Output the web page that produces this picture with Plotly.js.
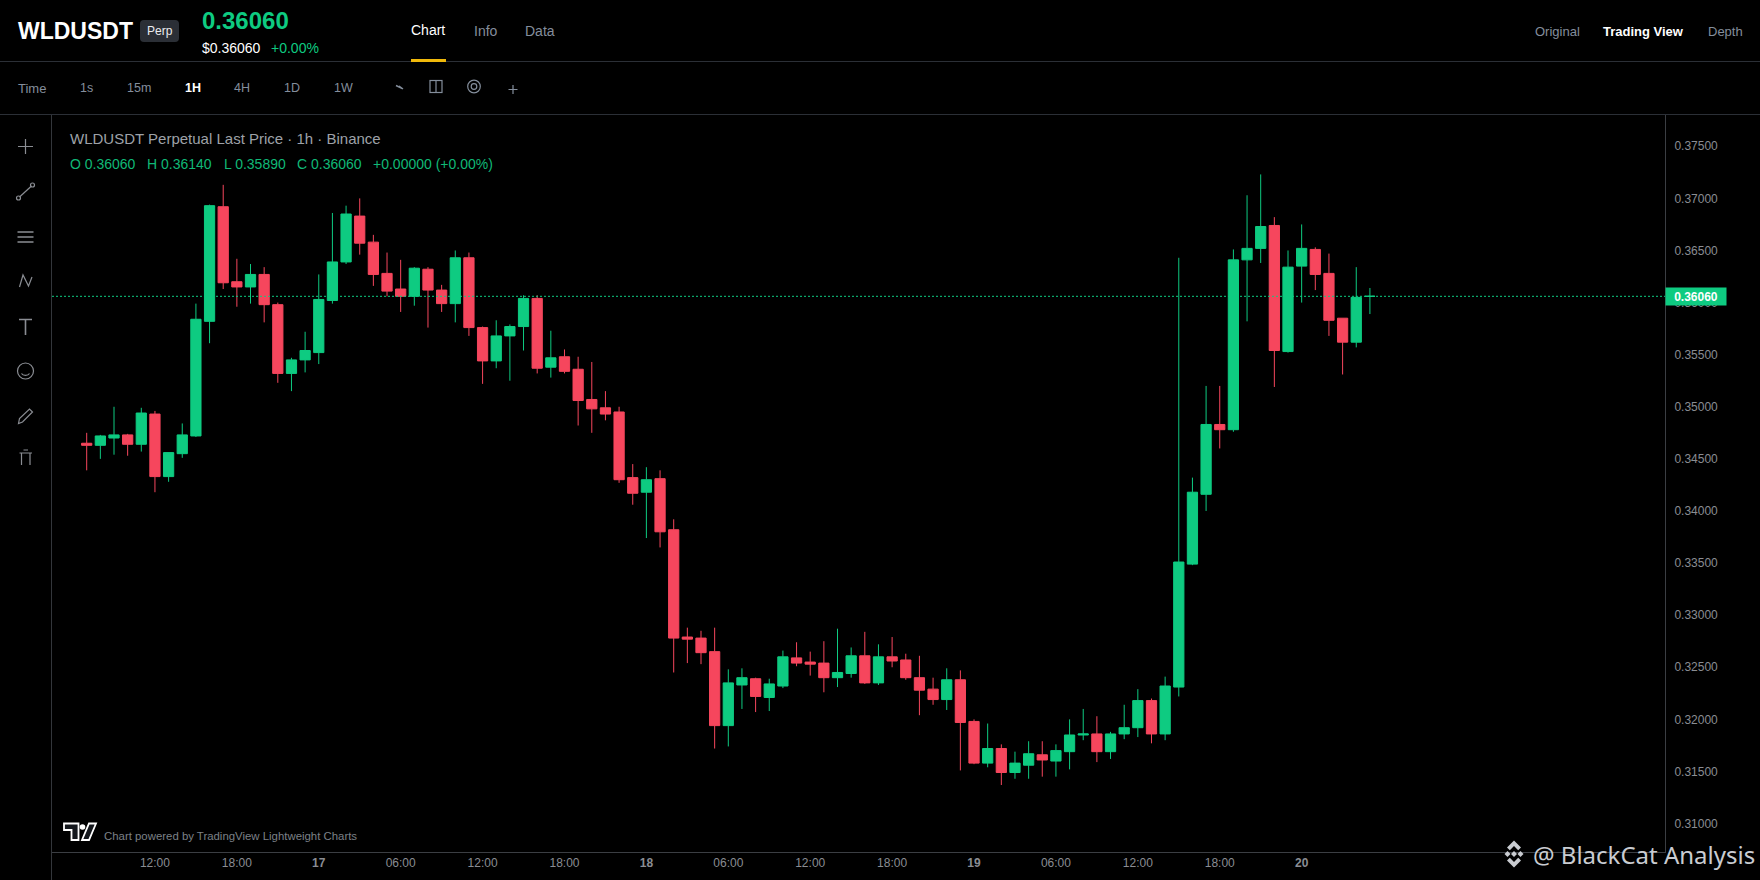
<!DOCTYPE html>
<html>
<head>
<meta charset="utf-8">
<script src="https://cdn.plot.ly/plotly-3.0.1.min.js"></script>
<style>
html,body{margin:0;padding:0;background:#000;width:1760px;height:880px;overflow:hidden}
#chrome{position:absolute;left:0;top:0;z-index:0}
#chart{position:absolute;left:0;top:0;width:1760px;height:880px;z-index:1}
</style>
</head>
<body>
<svg id="chrome" width="1760" height="880" viewBox="0 0 1760 880" fill="none">
  <path d="M0 61.5H1760M0 114.5H1760" stroke="#2b2f36" stroke-width="1"/>
  <rect x="411" y="59" width="35" height="3" fill="#f0b90b"/>
  <rect x="140" y="20" width="39" height="22" rx="4" fill="#2b2f36"/>
  <path d="M51.5 115V880" stroke="#33363b"/>
  <!-- toolbar icons -->
  <g stroke="#848e9c" stroke-width="1.2">
    <path d="M396 85.5L400 87.5L399 86L403 89" stroke-width="1.4"/>
    <rect x="430" y="80.5" width="12" height="12"/><path d="M436 80.5V92.5"/>
    <circle cx="474" cy="86.5" r="6.3"/><circle cx="474" cy="86.5" r="2.8"/>
    <path d="M508.5 89.5H517.5M513 85V94"/>
  </g>
  <!-- left drawing tools -->
  <g stroke="#8a8d93" stroke-width="1.2">
    <path d="M18 146.5H33M25.5 139V154"/>
    <path d="M19.5 197L31.5 186"/><circle cx="18.5" cy="198" r="2" /><circle cx="32.5" cy="185" r="2"/>
    <path d="M17.5 232H33.5M17.5 237H33.5M17.5 242H33.5" stroke-width="1.4"/>
    <path d="M19.5 287L23 275L28.5 286L32 277" />
    <path d="M19 319.5H32M25.5 319.5V335" stroke-width="1.6"/>
    <circle cx="25.5" cy="371" r="8"/><path d="M21.5 373.5C23 376 28 376 29.5 373.5"/>
    <path d="M18.5 423.5L19.5 418.5L29.5 409L32.5 412L22.5 422Z"/>
    <path d="M19.5 453H32M21.5 453V465M30 453V465M23.5 450H28"/>
  </g>
  <!-- lightweight charts logo -->
  <g stroke="#fff" stroke-width="1.8" fill="#14171c">
    <path d="M64 823.5H78.5V840H71.5V830H64Z"/>
    <path d="M89 823.5H96L89 840H82Z"/>
  </g>
  <circle cx="82.5" cy="827" r="2.8" fill="#fff"/>
</svg>
<div id="chart"></div>
<svg width="1760" height="880" viewBox="0 0 1760 880" style="position:absolute;left:0;top:0;z-index:2;pointer-events:none">
  <g fill="#c9ccd1">
    <path d="M1514 840.5L1521 847.5L1518.2 850.3L1514 846.1L1509.8 850.3L1507 847.5Z"/>
    <path d="M1514 867.5L1521 860.5L1518.2 857.7L1514 861.9L1509.8 857.7L1507 860.5Z"/>
    <path d="M1504.5 854L1507.5 851L1510.5 854L1507.5 857Z"/>
    <path d="M1517.5 854L1520.5 851L1523.5 854L1520.5 857Z"/>
    <path d="M1514 851L1517 854L1514 857L1511 854Z"/>
  </g>
</svg>
<script>
var times = [
"2026-03-16 07:00","2026-03-16 08:00","2026-03-16 09:00","2026-03-16 10:00","2026-03-16 11:00","2026-03-16 12:00","2026-03-16 13:00","2026-03-16 14:00","2026-03-16 15:00","2026-03-16 16:00","2026-03-16 17:00","2026-03-16 18:00","2026-03-16 19:00","2026-03-16 20:00","2026-03-16 21:00","2026-03-16 22:00","2026-03-16 23:00",
"2026-03-17 00:00","2026-03-17 01:00","2026-03-17 02:00","2026-03-17 03:00","2026-03-17 04:00","2026-03-17 05:00","2026-03-17 06:00","2026-03-17 07:00","2026-03-17 08:00","2026-03-17 09:00","2026-03-17 10:00","2026-03-17 11:00","2026-03-17 12:00","2026-03-17 13:00","2026-03-17 14:00","2026-03-17 15:00","2026-03-17 16:00","2026-03-17 17:00","2026-03-17 18:00","2026-03-17 19:00","2026-03-17 20:00","2026-03-17 21:00","2026-03-17 22:00","2026-03-17 23:00",
"2026-03-18 00:00","2026-03-18 01:00","2026-03-18 02:00","2026-03-18 03:00","2026-03-18 04:00","2026-03-18 05:00","2026-03-18 06:00","2026-03-18 07:00","2026-03-18 08:00","2026-03-18 09:00","2026-03-18 10:00","2026-03-18 11:00","2026-03-18 12:00","2026-03-18 13:00","2026-03-18 14:00","2026-03-18 15:00","2026-03-18 16:00","2026-03-18 17:00","2026-03-18 18:00","2026-03-18 19:00","2026-03-18 20:00","2026-03-18 21:00","2026-03-18 22:00","2026-03-18 23:00",
"2026-03-19 00:00","2026-03-19 01:00","2026-03-19 02:00","2026-03-19 03:00","2026-03-19 04:00","2026-03-19 05:00","2026-03-19 06:00","2026-03-19 07:00","2026-03-19 08:00","2026-03-19 09:00","2026-03-19 10:00","2026-03-19 11:00","2026-03-19 12:00","2026-03-19 13:00","2026-03-19 14:00","2026-03-19 15:00","2026-03-19 16:00","2026-03-19 17:00","2026-03-19 18:00","2026-03-19 19:00","2026-03-19 20:00","2026-03-19 21:00","2026-03-19 22:00","2026-03-19 23:00",
"2026-03-20 00:00","2026-03-20 01:00","2026-03-20 02:00","2026-03-20 03:00","2026-03-20 04:00","2026-03-20 05:00"];
var opens = [.3465,.3463,.3470,.3473,.3464,.3493,.3433,.3455,.3472,.3582,.3692,.3620,.3615,.3627,.3598,.3532,.3545,.3552,.3602,.3639,.3683,.3658,.3628,.3613,.3606,.3632,.3612,.3599,.3643,.3576,.3544,.3568,.3577,.3604,.3538,.3548,.3536,.3507,.3499,.3495,.3432,.3418,.3431,.3382,.3279,.3278,.3265,.3194,.3233,.3239,.3221,.3232,.3259,.3255,.3254,.3240,.3244,.3261,.3235,.3260,.3257,.3240,.3229,.3219,.3238,.3198,.3158,.3172,.3149,.3156,.3166,.3160,.3169,.3185,.3186,.3169,.3186,.3192,.3218,.3186,.3231,.3349,.3416,.3483,.3478,.3641,.3652,.3674,.3553,.3635,.3651,.3628,.3585,.3562,.3606];
var highs = [.3475,.3473,.3500,.3474,.3499,.3496,.3456,.3484,.3599,.3694,.3713,.3642,.3637,.3634,.3600,.3547,.3572,.3627,.3686,.3693,.3700,.3665,.3648,.3641,.3634,.3634,.3617,.3650,.3648,.3577,.3583,.3579,.3607,.3607,.3573,.3555,.3548,.3543,.3515,.3500,.3445,.3442,.3439,.3392,.3288,.3285,.3288,.3248,.3249,.3240,.3239,.3266,.3274,.3265,.3275,.3287,.3269,.3284,.3272,.3279,.3263,.3261,.3240,.3249,.3247,.3200,.3196,.3176,.3169,.3179,.3179,.3176,.3200,.3210,.3203,.3188,.3214,.3229,.3220,.3241,.3643,.3432,.3520,.3520,.3651,.3703,.3723,.3682,.3650,.3675,.3653,.3647,.3585,.3634,.3614];
var lows = [.3439,.3450,.3454,.3453,.3457,.3418,.3428,.3451,.3471,.3561,.3613,.3596,.3599,.3581,.3523,.3515,.3533,.3541,.3599,.3637,.3646,.3616,.3606,.3591,.3597,.3576,.3591,.3581,.3568,.3522,.3537,.3525,.3554,.3532,.3528,.3532,.3482,.3475,.3487,.3427,.3406,.3374,.3365,.3245,.3254,.3253,.3172,.3174,.3210,.3207,.3208,.3230,.3251,.3242,.3226,.3231,.3240,.3234,.3233,.3250,.3238,.3204,.3214,.3209,.3151,.3157,.3154,.3137,.3143,.3143,.3145,.3145,.3152,.3180,.3159,.3162,.3181,.3183,.3177,.3180,.3222,.3348,.3400,.3460,.3476,.3582,.3638,.3519,.3552,.3600,.3612,.3568,.3531,.3557,.3589];
var closes = [.3463,.3472,.3473,.3464,.3494,.3433,.3456,.3473,.3584,.3693,.3619,.3615,.3627,.3598,.3532,.3545,.3554,.3603,.3639,.3685,.3657,.3627,.3611,.3606,.3633,.3612,.3599,.3643,.3576,.3544,.3568,.3577,.3604,.3537,.3547,.3534,.3506,.3498,.3493,.3430,.3417,.3430,.3380,.3278,.3277,.3264,.3194,.3235,.3240,.3222,.3234,.3260,.3254,.3253,.3240,.3245,.3261,.3235,.3260,.3256,.3240,.3228,.3219,.3238,.3197,.3158,.3172,.3149,.3158,.3167,.3161,.3170,.3185,.3186,.3169,.3186,.3192,.3218,.3186,.3232,.3351,.3418,.3483,.3478,.3641,.3652,.3673,.3554,.3634,.3652,.3627,.3583,.3562,.3605,.3606];
var yTicks = [.31,.315,.32,.325,.33,.335,.34,.345,.35,.355,.36,.365,.37,.375];
var xTicks = ["2026-03-16 12:00","2026-03-16 18:00","2026-03-17 00:00","2026-03-17 06:00","2026-03-17 12:00","2026-03-17 18:00","2026-03-18 00:00","2026-03-18 06:00","2026-03-18 12:00","2026-03-18 18:00","2026-03-19 00:00","2026-03-19 06:00","2026-03-19 12:00","2026-03-19 18:00","2026-03-20 00:00"];
var xLabels = ["12:00","18:00","<b>17</b>","06:00","12:00","18:00","<b>18</b>","06:00","12:00","18:00","<b>19</b>","06:00","12:00","18:00","<b>20</b>"];
var lastPrice = 0.3606;
var timeframes = ["1s","15m","1H","4H","1D","1W"];

var UP = "#0ecb81", DOWN = "#f6465d", GREY = "#848e9c", AXIS = "#8a8d93";
var L = 52, R = 1665, T = 115, B = 852;
function note(px, py, text, size, color, anchor, family) {
  return {xref:"paper", yref:"paper", x:(px-L)/(R-L), y:1-(py-T)/(B-T), text:text, showarrow:false,
    xanchor:anchor||"left", yanchor:"middle", borderpad:0, borderwidth:0,
    font:{size:size, color:color, family:family||"Liberation Sans, Arial, sans-serif"}};
}
var tfX = [86.5,139.3,192.9,242.2,292,343.3];
var anns = [
  note(18,31,"<b>WLDUSDT</b>",23,"#ffffff"),
  note(159.5,31,"Perp",12,"#eaecef","center"),
  note(201.5,20.5,"<b>0.36060</b>",24,UP),
  note(202,47.5,"$0.36060",14,"#ffffff"),
  note(271,47.5,"+0.00%",14,UP),
  note(411,30,"Chart",14,"#ffffff"),
  note(474,30.5,"Info",14,GREY),
  note(525,30.5,"Data",14,GREY),
  note(1535,31,"Original",13,GREY),
  note(1603,31,"<b>Trading View</b>",13,"#ffffff"),
  note(1707.5,31,"Depth",13,GREY),
  note(18,88.5,"Time",13,GREY),
  note(70,138.5,"WLDUSDT Perpetual Last Price · 1h · Binance",15,"#9ea2a8"),
  note(70,163.5,"O 0.36060",14,"#10b877"),
  note(147,163.5,"H 0.36140",14,"#10b877"),
  note(223.5,163.5,"L 0.35890",14,"#10b877"),
  note(296.5,163.5,"C 0.36060",14,"#10b877"),
  note(373,163.5,"+0.00000 (+0.00%)",14,"#10b877"),
  note(104,836,"Chart powered by TradingView Lightweight Charts",11.4,"#7c8087"),
  note(1533,854,"@ BlackCat Analysis",24,"#c9ccd1","left","Noto Sans, sans-serif")
];
timeframes.forEach(function(t,i){
  var active = t==="1H";
  anns.push(note(tfX[i],88.5,active?"<b>"+t+"</b>":t,12.5,active?"#ffffff":GREY,"center"));
});
anns.push({xref:"paper", yref:"y", x:1, y:lastPrice, text:"<b>0.36060</b>", showarrow:false, xanchor:"left", yanchor:"middle",
  bgcolor:UP, width:60, height:17, borderpad:0, align:"center", font:{size:12,color:"#ffffff",family:"Liberation Sans, Arial, sans-serif"}});

var trace = {type:"candlestick", x:times, open:opens, high:highs, low:lows, close:closes, whiskerwidth:0,
  increasing:{line:{color:UP,width:1},fillcolor:UP},
  decreasing:{line:{color:DOWN,width:1},fillcolor:DOWN}, hoverinfo:"skip"};
var layout = {
  width:1760, height:880, showlegend:false,
  margin:{l:L,r:1760-R,t:T,b:880-B,pad:0},
  paper_bgcolor:"rgba(0,0,0,0)", plot_bgcolor:"rgba(0,0,0,0)",
  boxgap:0.25, boxgroupgap:0,
  xaxis:{type:"date", range:["2026-03-16 04:27:30","2026-03-21 02:37:00"], rangeslider:{visible:false},
    tickmode:"array", tickvals:xTicks, ticktext:xLabels, ticks:"", showgrid:false, zeroline:false,
    showline:true, linecolor:"#3b3e43", linewidth:1, tickangle:0,
    tickfont:{size:12,color:AXIS,family:"Liberation Sans, Arial, sans-serif"}},
  yaxis:{side:"right", range:[0.30727,0.378002], tickmode:"array", tickvals:yTicks, tickformat:".5f", ticks:"",
    showgrid:false, zeroline:false, showline:true, linecolor:"#3b3e43", linewidth:1, ticklabelstandoff:6,
    tickfont:{size:12,color:AXIS,family:"Liberation Sans, Arial, sans-serif"}},
  shapes:[{type:"line", xref:"paper", yref:"y", x0:0, x1:1, y0:lastPrice, y1:lastPrice, layer:"above",
    line:{color:UP,width:1,dash:"2px,2px"}}],
  annotations:anns
};
Plotly.newPlot("chart",[trace],layout,{displayModeBar:false,staticPlot:true});
</script>
</body>
</html>
